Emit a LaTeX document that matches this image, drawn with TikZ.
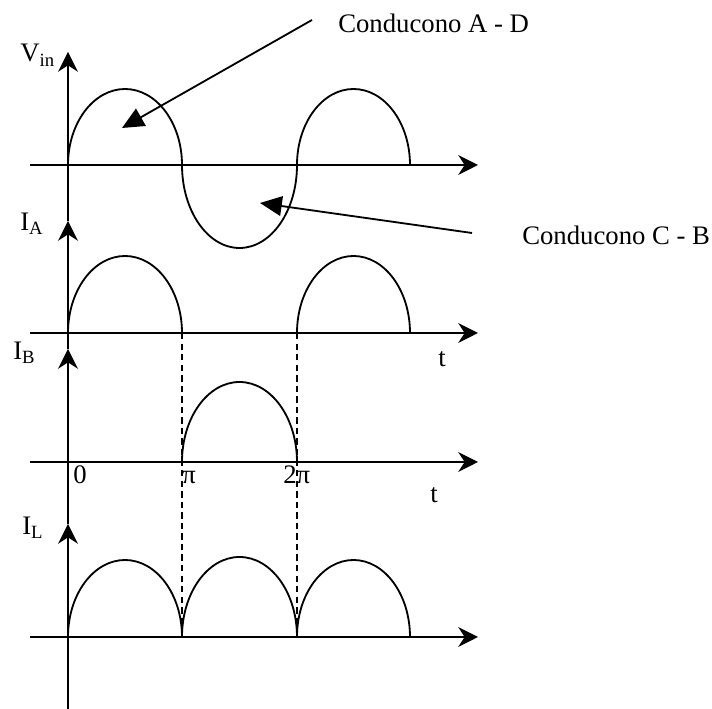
\documentclass[tikz,border=0pt]{standalone}
\usepackage{fontspec}
\setmainfont{Liberation Serif}
\usetikzlibrary{arrows.meta}

\begin{document}
\begin{tikzpicture}[
  x=0.025cm, y=0.025cm,
  ax/.style={draw=black, line width=1.3pt, -{Stealth[length=14pt, width=14pt, inset=4.5pt]}},
  wave/.style={draw=black, line width=1.3pt},
  guide/.style={draw=black, line width=1.1pt, dash pattern=on 4.5pt off 3pt},
  note/.style={draw=black, line width=1.3pt, -{Triangle[length=15.5pt, width=14pt]}},
  lbl/.style={font=\fontsize{19}{22}\selectfont, anchor=base west, inner sep=0pt, text=black}
]
\useasboundingbox (0,0) rectangle (712,709);

% vertical axis, one arrow per trace
\draw[ax] (68,0) -- (68,185);
\draw[ax] (68,185) -- (68,360);
\draw[ax] (68,360) -- (68,488);
\draw[ax] (68,488) -- (68,657);

% time axes
\draw[ax] (30,544) -- (478,544);
\draw[ax] (30,376) -- (478,376);
\draw[ax] (30,247) -- (478,247);
\draw[ax] (30,72) -- (478,72);

% axis labels
\node[lbl] (lblVin) at (20,647) {V\textsubscript{in}};
\node[lbl] (lblIA) at (20,478) {I\textsubscript{A}};
\node[lbl] (lblIB) at (13,349) {I\textsubscript{B}};
\node[lbl] (lblIL) at (22,174) {I\textsubscript{L}};
\node[lbl] (lblT1) at (438,342) {t};
\node[lbl] (lblT2) at (430,206) {t};
\node[lbl] (lblZero) at (73,225) {0};
\node[lbl] (lblPi) at (182,225) {π};
\node[lbl] (lblTwoPi) at (283,225) {2π};

% input voltage
\draw[wave] (68,544) arc[start angle=180, end angle=0, x radius=57, y radius=76]
  arc[start angle=180, end angle=360, x radius=57.5, y radius=83]
  arc[start angle=180, end angle=0, x radius=56.5, y radius=76];

% current in A
\draw[wave] (68,376) arc[start angle=180, end angle=0, x radius=57, y radius=77];
\draw[wave] (297,376) arc[start angle=180, end angle=0, x radius=56.5, y radius=77];

% current in B
\draw[wave] (182,247) arc[start angle=180, end angle=0, x radius=57.5, y radius=80];

% load current
\draw[wave] (68,72) arc[start angle=180, end angle=0, x radius=57, y radius=77]
  arc[start angle=180, end angle=0, x radius=57.5, y radius=80]
  arc[start angle=180, end angle=0, x radius=56.5, y radius=77];

% switching instants
\draw[guide] (182,376) -- (182,72);
\draw[guide] (297,376) -- (297,72);

% conduction notes
\node[lbl] (lblAD) at (338,676) {Conducono A - D};
\node[lbl] (lblCB) at (522,464) {Conducono C - B};
\coordinate (adTail) at (312,689);
\coordinate (adTip) at (122,581);
\coordinate (cbTail) at (472,476);
\coordinate (cbTip) at (260,506);
\draw[note] (adTail) -- (adTip);
\draw[note] (cbTail) -- (cbTip);

\end{tikzpicture}
\end{document}
